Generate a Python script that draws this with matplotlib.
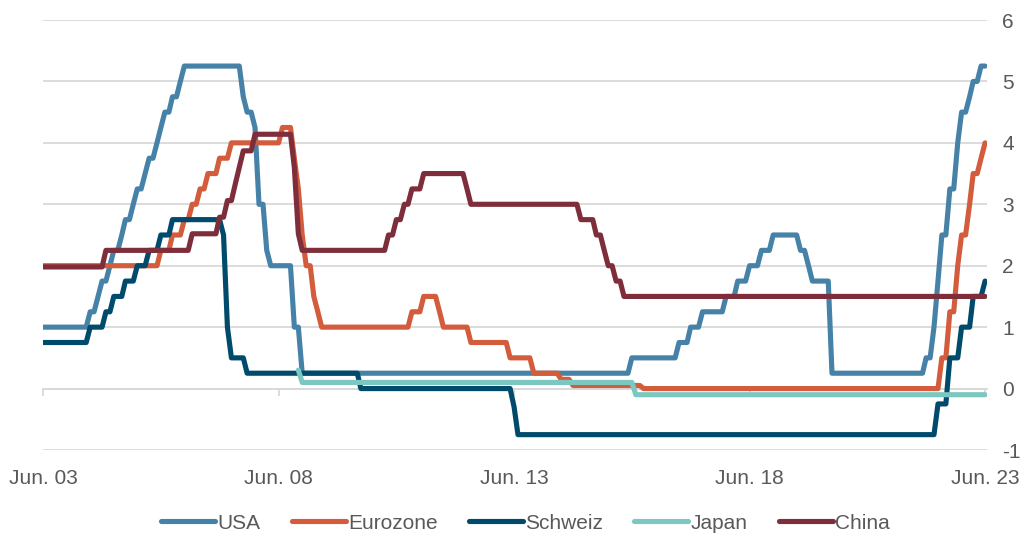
import pandas as pd
import matplotlib.pyplot as plt
import matplotlib.dates as mdates

plt.rcParams['font.family'] = ['Liberation Sans', 'DejaVu Sans']
plt.rcParams['axes.unicode_minus'] = False

# Leitzinsen, Monatswerte (Datum der Änderung -> neuer Satz)
usa_dates = ['2003-06', '2004-06', '2004-08', '2004-09', '2004-11', '2004-12', '2005-02',
             '2005-03', '2005-05', '2005-06', '2005-08', '2005-09', '2005-11', '2005-12',
             '2006-01', '2006-03', '2006-05', '2006-06', '2007-09', '2007-10', '2007-12',
             '2008-01', '2008-03', '2008-04', '2008-10', '2008-12', '2015-12', '2016-12',
             '2017-03', '2017-06', '2017-12', '2018-03', '2018-06', '2018-09', '2018-12',
             '2019-07', '2019-09', '2019-10', '2020-03', '2022-03', '2022-05', '2022-06',
             '2022-07', '2022-09', '2022-11', '2022-12', '2023-02', '2023-03', '2023-05']
usa_rates = [1.0, 1.25, 1.5, 1.75, 2.0, 2.25, 2.5,
             2.75, 3.0, 3.25, 3.5, 3.75, 4.0, 4.25,
             4.5, 4.75, 5.0, 5.25, 4.75, 4.5, 4.25,
             3.0, 2.25, 2.0, 1.0, 0.25, 0.5, 0.75,
             1.0, 1.25, 1.5, 1.75, 2.0, 2.25, 2.5,
             2.25, 2.0, 1.75, 0.25, 0.5, 1.0, 1.75,
             2.5, 3.25, 4.0, 4.5, 4.75, 5.0, 5.25]

eur_dates = ['2003-06', '2005-12', '2006-03', '2006-06', '2006-08', '2006-10', '2006-12',
             '2007-03', '2007-06', '2008-07', '2008-10', '2008-11', '2008-12', '2009-01',
             '2009-03', '2009-04', '2009-05', '2011-04', '2011-07', '2011-11', '2011-12',
             '2012-07', '2013-05', '2013-11', '2014-06', '2014-09', '2016-03', '2022-07',
             '2022-09', '2022-11', '2022-12', '2023-02', '2023-03', '2023-05', '2023-06']
eur_rates = [2.0, 2.25, 2.5, 2.75, 3.0, 3.25, 3.5,
             3.75, 4.0, 4.25, 3.75, 3.25, 2.5, 2.0,
             1.5, 1.25, 1.0, 1.25, 1.5, 1.25, 1.0,
             0.75, 0.5, 0.25, 0.15, 0.05, 0.0, 0.5,
             1.25, 2.0, 2.5, 3.0, 3.5, 3.75, 4.0]

chf_dates = ['2003-06', '2004-06', '2004-10', '2004-12', '2005-03', '2005-06', '2005-09',
             '2005-12', '2006-03', '2007-04', '2007-05', '2007-06', '2007-10', '2010-03',
             '2013-06', '2013-07', '2022-06', '2022-09', '2022-12', '2023-03', '2023-06']
chf_rates = [0.75, 1.0, 1.25, 1.5, 1.75, 2.0, 2.25,
             2.5, 2.75, 2.5, 1.0, 0.5, 0.25, 0.0,
             -0.3, -0.75, -0.25, 0.5, 1.0, 1.5, 1.75]

jpn_dates = ['2008-11', '2008-12', '2016-01']
jpn_rates = [0.3, 0.1, -0.1]

chn_dates = ['2003-06', '2004-10', '2006-08', '2007-03', '2007-05', '2007-07', '2007-08',
             '2007-09', '2007-12', '2008-10', '2008-11', '2008-12', '2010-10', '2010-12',
             '2011-02', '2011-04', '2011-07', '2012-06', '2012-07', '2014-11', '2015-03',
             '2015-05', '2015-06', '2015-08', '2015-10']
chn_rates = [1.98, 2.25, 2.52, 2.79, 3.06, 3.33, 3.60,
             3.87, 4.14, 3.60, 2.52, 2.25, 2.50, 2.75,
             3.00, 3.25, 3.50, 3.25, 3.00, 2.75, 2.50,
             2.25, 2.00, 1.75, 1.50]

names = ['USA', 'Eurozone', 'Schweiz', 'Japan', 'China']
colors = ['#4682A8', '#D35C3D', '#004B6B', '#7CC8C1', '#7E2E3A']
series_data = [(usa_dates, usa_rates), (eur_dates, eur_rates), (chf_dates, chf_rates),
               (jpn_dates, jpn_rates), (chn_dates, chn_rates)]

months = pd.date_range('2003-06-01', '2023-06-01', freq='MS')
tick_dates = pd.to_datetime(['2003-06-01', '2008-06-01', '2013-06-01', '2018-06-01', '2023-06-01'])
tick_labels = ['Jun. 03', 'Jun. 08', 'Jun. 13', 'Jun. 18', 'Jun. 23']

fig = plt.figure(figsize=(10.24, 5.38), dpi=100)
ax = fig.add_axes([43 / 1024, 88 / 538, 944 / 1024, 430 / 538])

for name, col, (d, r) in zip(names, colors, series_data):
    s = pd.Series(r, index=pd.to_datetime(d)).reindex(months).ffill()
    ax.plot(s.index, s.values, color=col, lw=3.7, label=name, zorder=3,
            solid_capstyle='round', solid_joinstyle='round')

ax.set_ylim(-1, 6)
ax.set_xlim(pd.Timestamp('2003-06-01'), pd.Timestamp('2023-06-16'))
ax.set_yticks(range(-1, 7))
ax.yaxis.tick_right()
ax.grid(axis='y', color='#D9D9D9', lw=1.3)
ax.set_axisbelow(True)

for sp in ['top', 'left', 'right']:
    ax.spines[sp].set_visible(False)
ax.spines['bottom'].set_position(('data', 0))
ax.spines['bottom'].set_color('#D9D9D9')
ax.spines['bottom'].set_linewidth(1.3)
ax.spines['bottom'].set_zorder(1)

ax.set_xticks(tick_dates)
ax.set_xticklabels(tick_labels)
ax.tick_params(axis='x', direction='out', length=5, width=1.3, color='#D9D9D9',
               pad=53, labelsize=15, labelcolor='#595959')
ax.tick_params(axis='y', length=0, pad=11, labelsize=15, labelcolor='#595959')

fig.legend(loc='lower center', bbox_to_anchor=(0.513, -0.025), ncol=5, frameon=False,
           fontsize=15, handlelength=2.6, handletextpad=0.1, columnspacing=1.5,
           labelcolor='#595959')

fig.savefig('out.png', dpi=100)
